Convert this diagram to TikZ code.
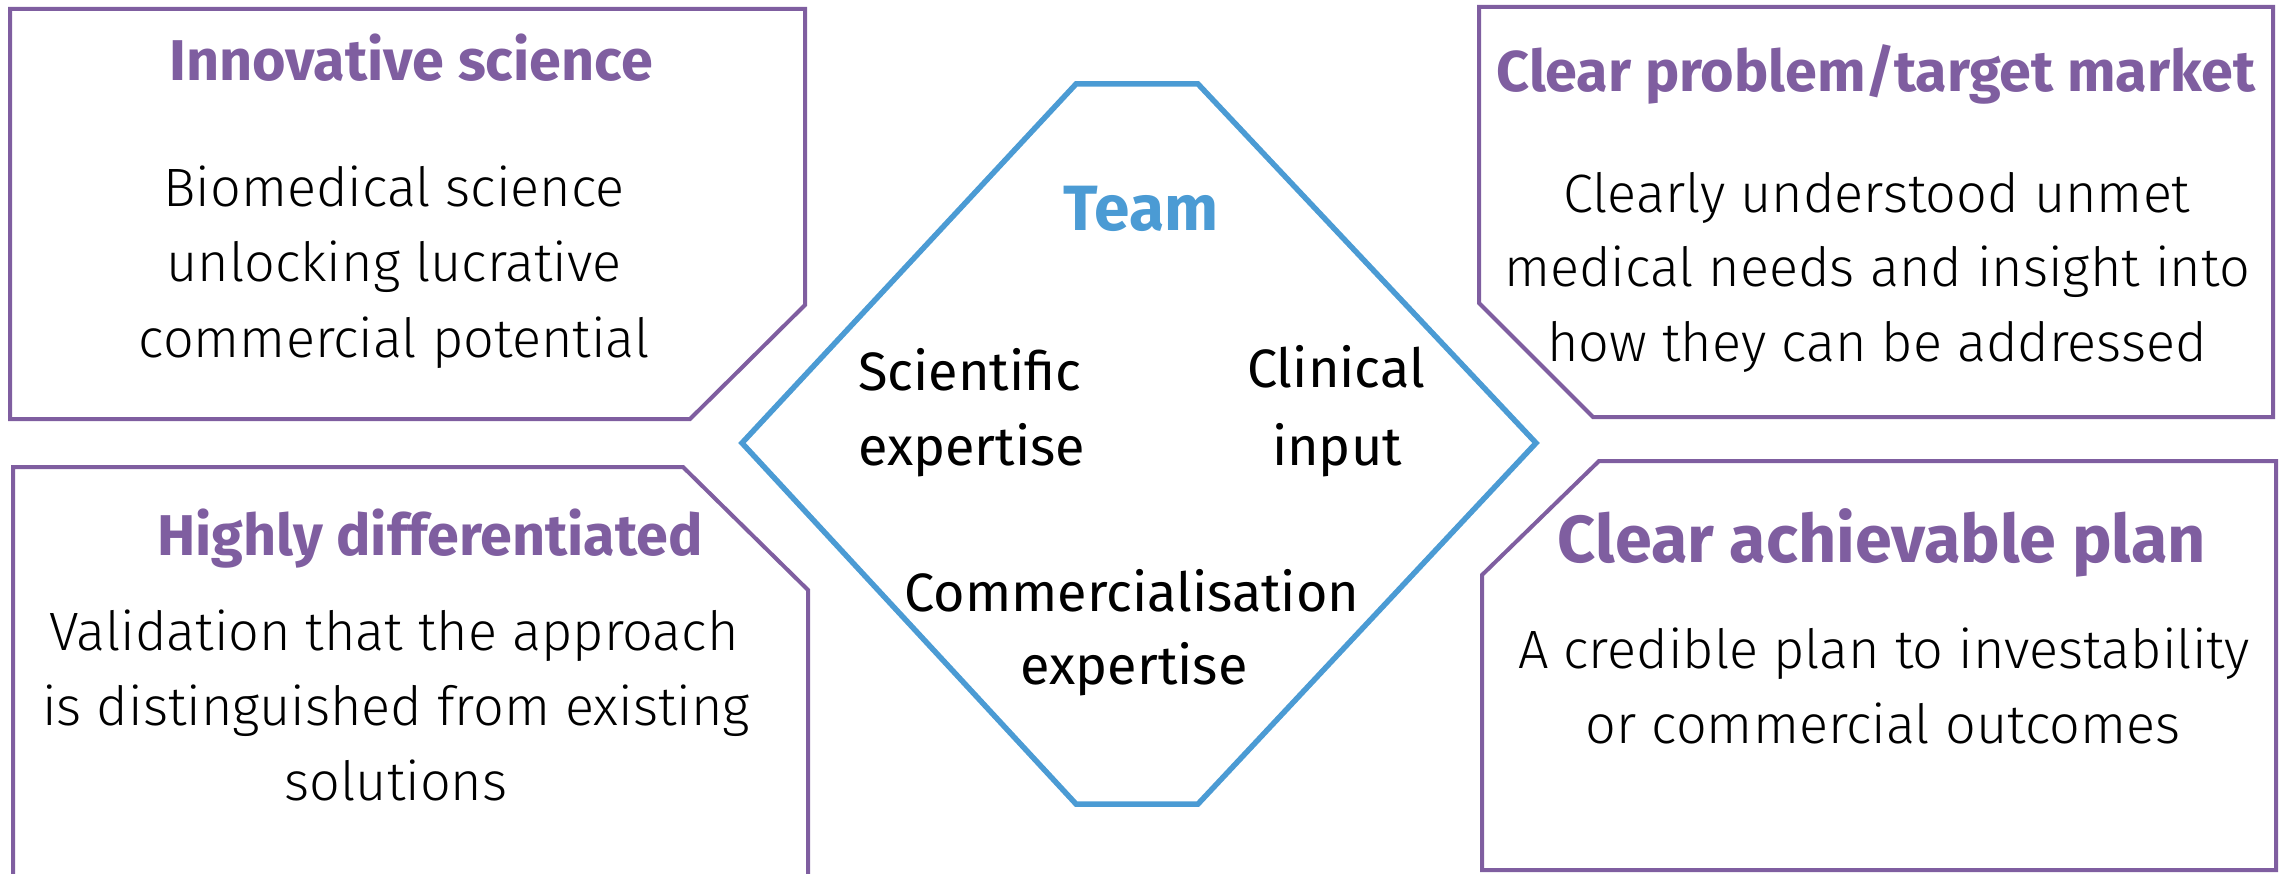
\documentclass[tikz,border=0pt]{standalone}
\usepackage{fontspec}
\setmainfont{Fira Sans}
\newfontfamily\lightfont{Fira Sans Light}
\definecolor{panelpurple}{RGB}{127,94,160}
\definecolor{teamblue}{RGB}{75,155,212}
\begin{document}
\begin{tikzpicture}[x=1pt,y=-1pt,
  panel/.style={draw=panelpurple,line width=4pt,line join=miter},
  hexline/.style={draw=teamblue,line width=5.5pt,line join=miter},
  heading/.style={anchor=base,inner sep=0pt,text=panelpurple,font=\fontsize{57.5}{60}\selectfont\bfseries},
  bigheading/.style={heading,font=\fontsize{66.5}{70}\selectfont\bfseries},
  bodyline/.style={anchor=base,inner sep=0pt,font=\fontsize{54}{60}\selectfont\lightfont},
  teamline/.style={anchor=base,inner sep=0pt,font=\fontsize{54}{60}\selectfont},
  teamhead/.style={anchor=base,inner sep=0pt,text=teamblue,font=\fontsize{64}{66}\selectfont\bfseries}]
\useasboundingbox (0,0) rectangle (2280,874);

% four purple panels
\draw[panel] (10,9) -- (805,9) -- (805,305) -- (690,419) -- (10,419) -- cycle;
\draw[panel] (1479,7) -- (2273,7) -- (2273,417) -- (1593,417) -- (1479,303) -- cycle;
\draw[panel] (13,885) -- (13,467) -- (683,467) -- (808,590) -- (808,885);
\draw[panel] (1599,461) -- (2276,461) -- (2276,870) -- (1482,870) -- (1482,575) -- cycle;

% central team hexagon
\draw[hexline] (742,443) -- (1076,84) -- (1198,84) -- (1536,443) -- (1198,804) -- (1076,804) -- cycle;

% top left panel
\node[heading] (innov) at (411,81) {Innovative science};
\node[bodyline] (innov1) at (394,207) {Biomedical science};
\node[bodyline] (innov2) at (394,282) {unlocking lucrative};
\node[bodyline] (innov3) at (394,357) {commercial potential};

% top right panel
\node[heading] (market) at (1876,92) {Clear problem/target market};
\node[bodyline] (market1) at (1877,213) {Clearly understood unmet};
\node[bodyline] (market2) at (1877,287) {medical needs and insight into};
\node[bodyline] (market3) at (1877,362) {how they can be addressed};

% bottom left panel
\node[heading] (diff) at (430,555) {Highly differentiated};
\node[bodyline] (diff1) at (394,650) {Validation that the approach};
\node[bodyline] (diff2) at (396,725) {is distinguished from existing};
\node[bodyline] (diff3) at (396,800) {solutions};

% bottom right panel
\node[bigheading] (plan) at (1882,562) {Clear achievable plan};
\node[bodyline] (plan1) at (1884,668) {A credible plan to investability};
\node[bodyline] (plan2) at (1883,743) {or commercial outcomes};

% hexagon contents
\node[teamhead] (team) at (1141,231) {Team};
\node[teamline,anchor=base west] (sci1) at (858,390) {Scientific};
\node[teamline,anchor=base west] (sci2) at (858,465) {expertise};
\node[teamline] (clin1) at (1336,388) {Clinical};
\node[teamline] (clin2) at (1337,465) {input};
\node[teamline] (com1) at (1132,611) {Commercialisation};
\node[teamline] (com2) at (1134,684) {expertise};
\end{tikzpicture}
\end{document}
